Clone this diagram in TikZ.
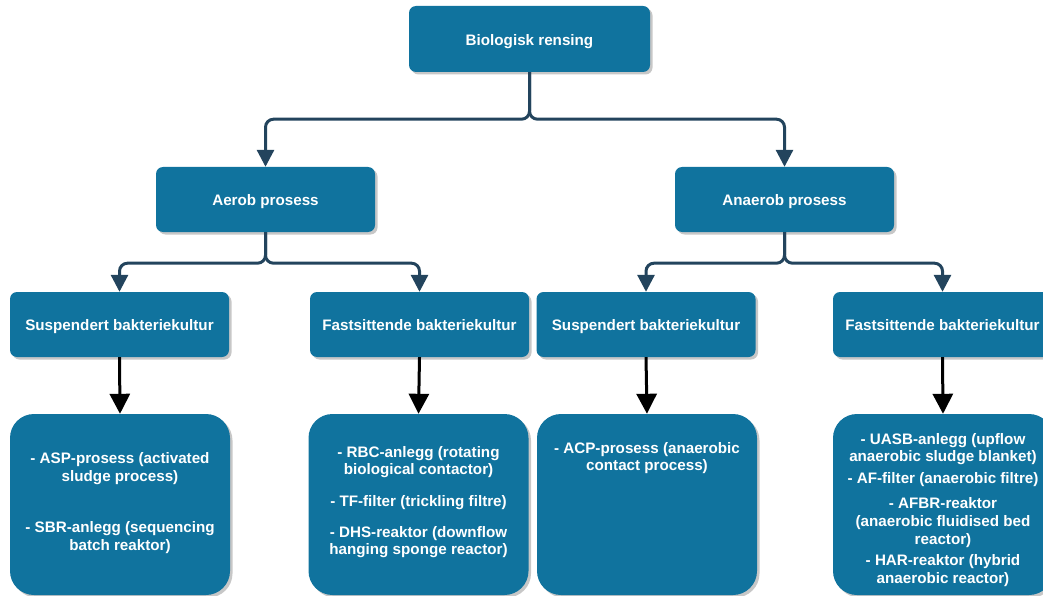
\documentclass[tikz,border=0pt]{standalone}
\usepackage{fontspec}
\setmainfont{Liberation Sans}
\usetikzlibrary{arrows.meta,shadows}
\definecolor{boxblue}{HTML}{10739E}
\definecolor{connblue}{HTML}{23445D}
\newcommand{\bxt}[3]{\begin{minipage}[t][181pt][t]{220pt}\centering\fontsize{15.2}{#2}\selectfont\vspace*{\dimexpr#1-0.7\baselineskip\relax}\strut #3\end{minipage}}
\tikzset{
  shad/.style={drop shadow={shadow xshift=2.5pt, shadow yshift=-2.5pt, fill=black, opacity=0.22}},
  smallbox/.style={shad, fill=boxblue, draw=none, rounded corners=7pt, minimum width=219pt, minimum height=65pt, inner sep=0pt, text height=16pt, text depth=3.2pt, text=white, font=\fontsize{15.2}{18}\selectfont\bfseries},
  bigbox/.style={shad, fill=boxblue, draw=none, rounded corners=24pt, minimum width=220pt, minimum height=181pt, inner sep=0pt, text=white, font=\bfseries},
  conn/.style={draw=connblue, line width=3pt, rounded corners=8pt, -{Triangle[width=17pt,length=17pt]}, fill=none},
  blk/.style={draw=black, line width=3pt, -{Triangle[width=20pt,length=20pt]}}
}
\begin{document}
\begin{tikzpicture}[x=1pt,y=-1pt]
\useasboundingbox (0,0) rectangle (1043,596);
\node[smallbox, minimum width=241pt, minimum height=66pt] (top) at (529.5,39) {Biologisk rensing};
\node[smallbox] (aerob) at (265.5,199.5) {Aerob prosess};
\node[smallbox] (anaerob) at (784.5,199.5) {Anaerob prosess};
\node[smallbox] (s1) at (119.5,324.5) {Suspendert bakteriekultur};
\node[smallbox] (f1) at (419.5,324.5) {Fastsittende bakteriekultur};
\node[smallbox] (s2) at (646,324.5) {Suspendert bakteriekultur};
\node[smallbox] (f2) at (942.5,324.5) {Fastsittende bakteriekultur};
\node[bigbox] (b1) at (120,504.5) {\bxt{49pt}{18pt}{- ASP-prosess (activated\\sludge process)\\[33pt]- SBR-anlegg (sequencing\\batch reaktor)}};
\node[bigbox] (b2) at (418.5,504.5) {\bxt{43pt}{17.3pt}{- RBC-anlegg (rotating\\biological contactor)\\[14.5pt]- TF-filter (trickling filtre)\\[13.7pt]- DHS-reaktor (downflow\\hanging sponge reactor)}};
\node[bigbox] (b3) at (647,504.5) {\bxt{39.7pt}{16.8pt}{- ACP-prosess (anaerobic\\contact process)}};
\node[bigbox] (b4) at (943,504.5) {\bxt{30pt}{17.8pt}{- UASB-anlegg (upflow\\anaerobic sludge blanket)\\[4.3pt]- AF-filter (anaerobic filtre)\\[7pt]- AFBR-reaktor\\(anaerobic fluidised bed\\reactor)\\[3.6pt]- HAR-reaktor (hybrid\\anaerobic reactor)}};
\draw[conn] (top.south) -- ++(0,47) -| (aerob.north);
\draw[conn] (top.south) -- ++(0,47) -| (anaerob.north);
\draw[conn] (aerob.south) -- ++(0,31) -| (s1.north);
\draw[conn] (aerob.south) -- ++(0,31) -| (f1.north);
\draw[conn] (anaerob.south) -- ++(0,31) -| (s2.north);
\draw[conn] (anaerob.south) -- ++(0,31) -| (f2.north);
\draw[blk] (s1.south) -- (b1.north);
\draw[blk] (f1.south) -- (b2.north);
\draw[blk] (s2.south) -- (b3.north);
\draw[blk] (f2.south) -- (b4.north);
\end{tikzpicture}
\end{document}
